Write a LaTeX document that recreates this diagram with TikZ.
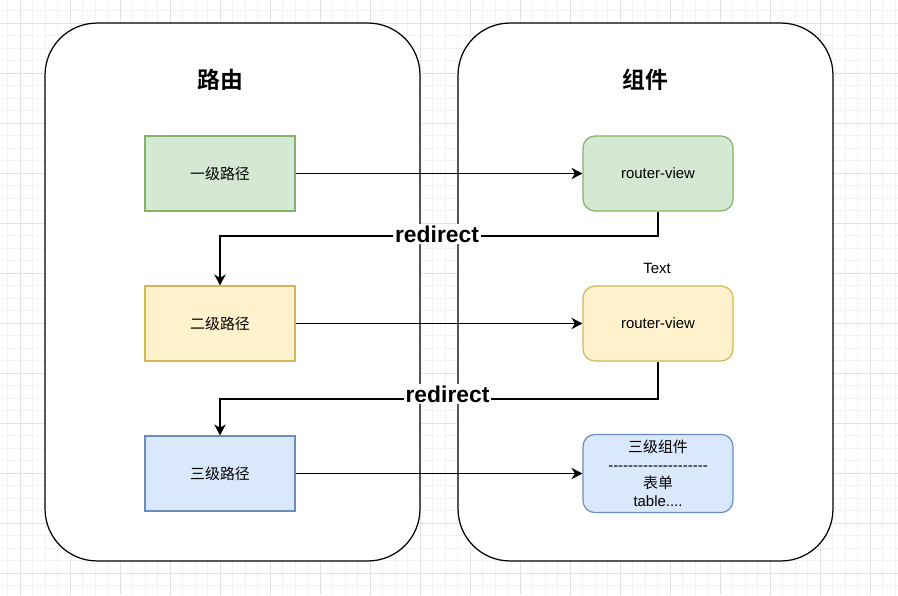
\documentclass[tikz,border=0pt]{standalone}
\usepackage{fontspec}
\setmainfont{Liberation Sans}
\newfontfamily\cjk{Noto Sans CJK SC}[BoldFont={Noto Sans CJK SC Bold}]
\usetikzlibrary{arrows.meta}
\definecolor{gridminor}{HTML}{F3F3F3}
\definecolor{gridmajor}{HTML}{E2E2E2}
\definecolor{greenfill}{HTML}{D5E8D4}
\definecolor{greenline}{HTML}{82B366}
\definecolor{yellowfill}{HTML}{FFF2CC}
\definecolor{yellowline}{HTML}{D6B656}
\definecolor{bluefill}{HTML}{DAE8FC}
\definecolor{blueline}{HTML}{6C8EBF}
\def\hy{\hbox{-}}
\def\hyrow{\hy\hy\hy\hy\hy}

\tikzset{
  panel/.style={draw=black,fill=white,line width=0.7pt,rounded corners=1.04cm,
    minimum width=7.5cm,minimum height=10.76cm},
  paneltitle/.style={font=\cjk\bfseries\fontsize{13}{15}\selectfont},
  pathbox/.style={draw,line width=0.7pt,minimum width=3cm,minimum height=1.5cm,
    font=\cjk\fontsize{8.5}{10}\selectfont},
  viewbox/.style={pathbox,rounded corners=0.24cm,font=\fontsize{8.5}{10}\selectfont},
  link/.style={line width=0.7pt,-{Stealth[length=0.22cm,width=0.23cm,inset=0.07cm]}},
  tag/.style={fill=white,inner sep=1pt,font=\bfseries\fontsize{13}{15}\selectfont},
}

\begin{document}
\begin{tikzpicture}[x=0.02cm,y=-0.02cm]
  \useasboundingbox (0,0) rectangle (898,595);
  %background grid
  \foreach \gx in {7.5,20,...,898} \draw[gridminor,line width=0.4pt] (\gx,0) -- (\gx,595);
  \foreach \gy in {10.83,23.33,...,595} \draw[gridminor,line width=0.4pt] (0,\gy) -- (898,\gy);
  \foreach \gx in {20,70,...,898} \draw[gridmajor,line width=0.5pt] (\gx,0) -- (\gx,595);
  \foreach \gy in {23.33,73.33,...,595} \draw[gridmajor,line width=0.5pt] (0,\gy) -- (898,\gy);
  %panels
  \node[panel] (routes) at (232.5,292) {};
  \node[panel] (parts) at (645.5,292) {};
  \node[paneltitle] (routesTitle) at (220,80) {路由};
  \node[paneltitle] (partsTitle) at (645,80) {组件};
  %route boxes
  \node[pathbox,fill=greenfill,draw=greenline] (route1) at (220,173.5) {一级路径};
  \node[pathbox,fill=yellowfill,draw=yellowline] (route2) at (220,323.5) {二级路径};
  \node[pathbox,fill=bluefill,draw=blueline] (route3) at (220,473.5) {三级路径};
  %component boxes
  \node[viewbox,fill=greenfill,draw=greenline] (view1) at (658,173.5) {router-view};
  \node[viewbox,fill=yellowfill,draw=yellowline] (view2) at (658,323.5) {router-view};
  \node[viewbox,fill=bluefill,draw=blueline,align=center,
    font=\fontsize{8.5}{10.2}\selectfont] (view3) at (658,473.5)
    {{\cjk 三级组件}\\\hyrow\hyrow\hyrow\hyrow\\{\cjk 表单}\\table....};
  \node[font=\fontsize{8.5}{10}\selectfont] (textLabel) at (657,268) {Text};
  %links
  \draw[link] (route1) -- (view1);
  \draw[link] (route2) -- (view2);
  \draw[link] (route3) -- (view3);
  \coordinate (turn1) at (437,236);
  \coordinate (turn2) at (447,399);
  \draw[link] (view1.south) |- (turn1) -| (route2.north);
  \draw[link] (view2.south) |- (turn2) -| (route3.north);
  \node[tag] (jump1) at (437,234) {redirect};
  \node[tag] (jump2) at (447.5,394) {redirect};
\end{tikzpicture}
\end{document}
